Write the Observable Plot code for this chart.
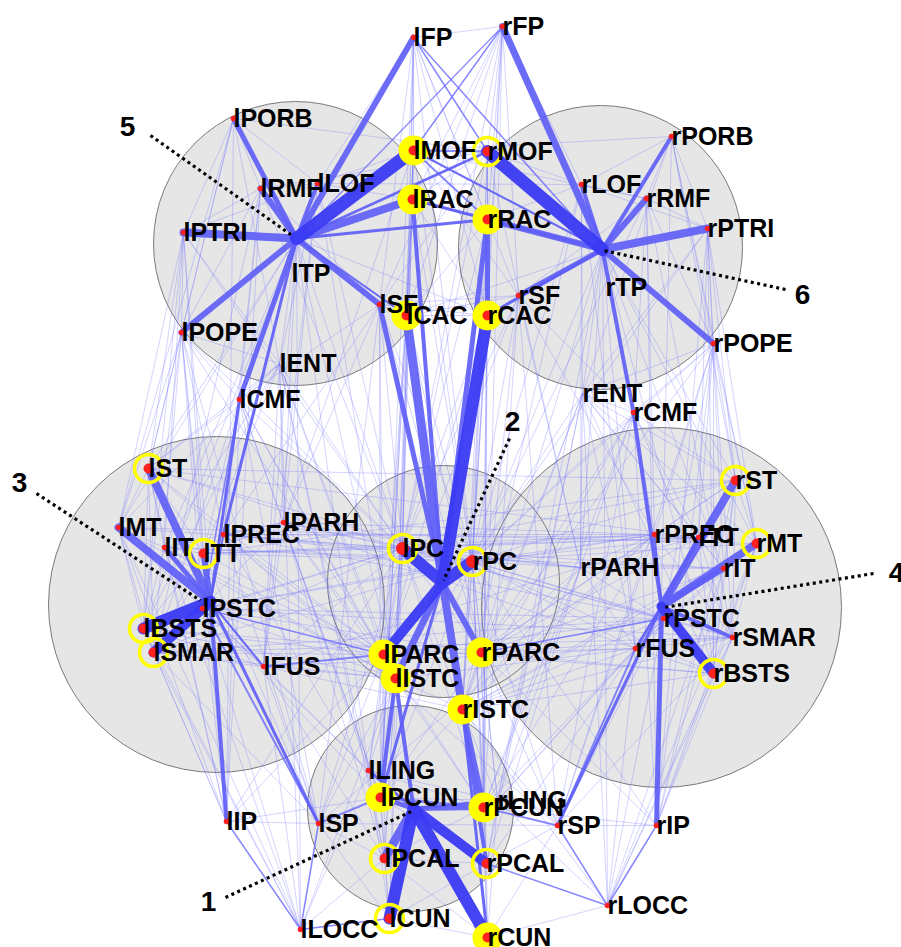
<!DOCTYPE html>
<html><head><meta charset="utf-8">
<script src="https://cdn.jsdelivr.net/npm/d3@7"></script>
<script src="https://cdn.jsdelivr.net/npm/@observablehq/plot@0.6"></script>
<style>html,body{margin:0;padding:0;background:#fff} svg{display:block}</style>
</head><body><div id="chart"></div>
<script>
// ---- node layout (network layout coordinates) ----
const nodeNames = ["lFP","lPORB","lRMF","lLOF","lMOF","lRAC","lPTRI","lTP","lSF","lCAC","lPOPE","lENT","lCMF",
 "rFP","rMOF","rLOF","rRMF","rPORB","rRAC","rPTRI","rTP","rSF","rCAC","rPOPE","rENT","rCMF",
 "lST","lMT","lIT","lTT","lPREC","lPARH","lPSTC","lBSTS","lSMAR","lFUS",
 "lPC","rPC","lPARC","lISTC","rPARC","rISTC",
 "rST","rPREC","rTT","rMT","rIT","rPARH","rPSTC","rSMAR","rFUS","rBSTS",
 "lLING","lPCUN","lIP","lSP","lPCAL","lCUN","lLOCC","rPCUN","rLING","rSP","rPCAL","rCUN","rLOCC","rIP"];
const nodeX = [413,233,260,317,413,412,183,296,379,406,181,279,239,
 502,487,581,646,671,487,707,602,518,487,713,582,633,
 148,118,164,203,223,283,202,143,153,263,
 402,472,383,395,481,462,
 735,654,698,756,723,580,663,732,635,713,
 368,380,226,318,384,389,300,483,497,557,486,487,607,656];
const nodeY = [37,118,188,183,150,199,232,238,304,315,332,363,399,
 26,151,184,198,136,219,228,249,295,315,343,393,412,
 468,527,547,553,534,522,608,628,652,666,
 548,561,654,678,652,709,
 480,534,537,543,568,567,618,637,648,673,
 770,797,821,823,858,918,929,807,800,825,863,937,905,825];
const labelOverride = ["lTP","rTP"];
const labelOverrideX = [291,605];
const labelOverrideY = [273,287];
const noDot = ["lTP","rTP","lENT","rENT","rPARH"];
const yellowFilled = ["lMOF","lRAC","lCAC","rRAC","rCAC","lPARC","lISTC","rPARC","rISTC","lPCUN","rPCUN","rCUN"];
const yellowRing = ["rMOF","lPC","rPC","lST","lTT","lBSTS","lSMAR","rST","rMT","rBSTS","lPCAL","rPCAL","lCUN"];
const bigDot = ["lPC","rPC"];

// ---- modules ----
const moduleIds = [1,2,3,4,5,6];
const moduleCx = [410,443,216,661,295,600];
const moduleCy = [808,581,604,607,243,247];
const moduleR  = [103,116,168,180,142,142];
const hubNames = ["h1","h2","h3","h4","h5","h6"];
const hubX = [413,442,210,661,296,602];
const hubY = [808,582,601,606,238,249];

// ---- module numbers with dotted pointers ----
const numText = ["1","2","3","4","5","6"];
const numX = [208,512,19,896,127,802];
const numY = [902,422,483,573,127,295];
const ptrX1 = [225,509,36,873,150,785];
const ptrY1 = [897,438,493,573,135,289];
const ptrX2 = [413,443,200,663,293,603];
const ptrY2 = [810,580,600,607,236,250];

// ---- strong (hub) connections: "from to width" ----
const thickEdges = [
 "h5 lMOF 13","h5 lRAC 8","h5 lPTRI 8","h5 lRMF 6","h5 lPORB 5","h5 lPOPE 6","h5 lFP 6","h5 lLOF 4","h5 lSF 6","h5 lCMF 5","h5 lPREC 3","h5 rRAC 3","h5 rMOF 2.5","h5 lCAC 2",
 "h6 rMOF 13","h6 rFP 7","h6 rPTRI 8","h6 rRAC 6","h6 rRMF 6","h6 rPORB 4","h6 rLOF 4","h6 rPOPE 6","h6 rSF 5","h6 rCMF 4","h6 rCAC 3","h6 lRAC 3","h6 lMOF 2",
 "h2 lPC 12","h2 rPC 12","h2 rCAC 12","h2 lCAC 9","h2 lSF 5","h2 rRAC 5","h2 lRAC 4","h2 lPARC 10","h2 lISTC 7","h2 rPARC 6","h2 rISTC 8","h2 lPCUN 3",
 "h3 lBSTS 12","h3 lSMAR 10","h3 lST 8","h3 lMT 8","h3 lTT 6","h3 lIT 5","h3 lIP 4","h3 lSP 3","h3 lCMF 3","h3 lFUS 2","h3 lPREC 2",
 "h4 rBSTS 10","h4 rST 8","h4 rMT 8","h4 rIT 6","h4 rTT 4","h4 rSMAR 4","h4 rIP 5","h4 rCMF 4","h4 rSP 3","h4 rFUS 3","h4 rPREC 2",
 "h1 lCUN 12","h1 rCUN 12","h1 rPCAL 10","h1 lPCAL 9","h1 lPCUN 5","h1 rPCUN 5","h1 lLING 3","h1 rLING 3","h1 lISTC 4",
 "rISTC rPCUN 6","rISTC rPCAL 4","rISTC rCUN 3","lISTC lPCUN 4","rRAC rCAC 5"
];
// ---- medium connections ----
const mediumEdges = [
 "lFP rMOF 1.5","rFP lMOF 1.5","lFP rTP 1.5","rFP lTP 1.2","lMOF rRAC 2","lRAC rRAC 1.5","lMOF rMOF 2",
 "lFUS lPARC 2","lPSTC lPARC 1.5","rPSTC rPARC 1.5","rFUS rSP 2","lSP lPCUN 2","rSP rPCUN 2",
 "lIP lLOCC 1.5","rIP rLOCC 1.5","rSP rLOCC 1.5","lSP lLOCC 1.5","lLOCC lCUN 1.5","rLOCC rPCAL 1.5","lPCUN rPCUN 3",
 "lPSTC lSP 2","lCMF lPSTC 1.5"
];
// ---- weak connections seen in both hemispheres (region pairs) ----
const bothSides = [
 "PORB PTRI","PORB LOF","PORB RMF","PORB POPE","PTRI POPE","PTRI RMF","PTRI LOF","RMF LOF","RMF SF","RMF CMF","LOF MOF","LOF RAC","MOF RAC","MOF CAC","RAC CAC","SF CAC","SF CMF","POPE CMF","POPE ENT","ENT CMF","TP ENT","FP MOF","FP RAC","FP SF","FP LOF","FP CAC","PTRI ENT","PORB ENT","LOF ENT","RMF POPE",
 "POPE PREC","POPE PSTC","POPE SMAR","POPE ST","POPE TT","POPE MT","PTRI ST","PTRI MT","PTRI IT","PTRI BSTS","PORB ST","ENT FUS","ENT PARH","ENT IT","ENT MT","ENT ST","CMF PREC","CMF PSTC","CMF SMAR","CMF PARH","CMF TT","SF PREC","SF PARH","TP MT","TP IT","TP ST","TP FUS","TP PARH","RMF PREC","RMF SMAR","LOF PARH","LOF FUS","MOF PARH","TP BSTS","ENT BSTS","POPE BSTS","PTRI TT","PORB MT","ENT TT","CMF ST",
 "CAC PC","CAC PARC","CAC ISTC","SF PARC","SF PC","RAC PC","RAC ISTC","MOF PC","MOF ISTC","FP PC","CMF PARC","CMF PC","ENT PC","ENT ISTC","POPE PC","TP PC","TP ISTC","RMF PC","LOF PC","LOF ISTC","PTRI PC","POPE PARC","ENT PARC","CMF ISTC",
 "SF PCUN","SF SP","CMF SP","CMF IP","RMF IP","CAC PCUN","MOF PCUN","RAC PCUN","ENT LING","TP LING","POPE IP","PTRI IP","CMF PCUN","FP PCUN","ENT LOCC","PORB IP","POPE SP","ENT PCAL","TP LOCC",
 "ST MT","ST TT","ST IT","ST BSTS","MT IT","MT BSTS","MT SMAR","IT TT","IT FUS","IT BSTS","TT PREC","TT PARH","TT BSTS","PREC PARH","PREC SMAR","BSTS SMAR","BSTS FUS","SMAR FUS","PARH FUS","PARH PSTC","FUS PSTC","MT FUS","ST SMAR","ST PREC","TT SMAR","IT PARH",
 "PSTC PC","PSTC PARC","PSTC ISTC","PREC PC","PREC PARC","PARH PC","PARH ISTC","PARH PARC","FUS PARC","FUS ISTC","FUS PC","SMAR PARC","SMAR PC","SMAR ISTC","BSTS ISTC","BSTS PC","TT PC","TT PARC","IT PARC","IT ISTC","MT PC","MT ISTC","ST PC","ST PARC","BSTS PARC","PREC ISTC",
 "PSTC SP","PSTC IP","PSTC LOCC","SMAR IP","SMAR SP","BSTS IP","IT LOCC","FUS LOCC","FUS LING","PARH LING","PARH PCUN","PREC SP","PREC PCUN","MT LOCC","MT IP","ST IP","FUS SP","TT SP","PSTC PCUN","SMAR LOCC","FUS PCAL","PARH PCAL","IT IP","BSTS LOCC","PSTC LING",
 "PC PCUN","PC LING","PC SP","PC PCAL","PC CUN","PARC PCUN","PARC SP","ISTC PCUN","ISTC LING","ISTC PCAL","ISTC CUN","ISTC SP","PARC LING","PC IP","PARC IP","ISTC LOCC","PARC PCAL",
 "PC PARC","PC ISTC","PARC ISTC",
 "LING PCUN","LING PCAL","LING CUN","LING LOCC","PCUN SP","PCUN PCAL","PCUN CUN","SP IP","SP LOCC","IP LOCC","LOCC CUN","LOCC PCAL","PCAL CUN","SP PCAL","IP PCUN","SP CUN"
];
// ---- weak inter-hemispheric connections ----
const crossSides = [
 "lFP rFP","lFP rMOF","rFP lMOF","lMOF rMOF","lRAC rRAC","lCAC rCAC","lSF rSF","lMOF rRAC","lRAC rMOF","lCAC rRAC","lRAC rCAC","lFP rTP","rFP lTP","lFP rRAC","rFP lRAC","lSF rCAC","rSF lCAC","lTP rCAC","rTP lCAC","lLOF rLOF","lRMF rMOF","rRMF lMOF","lFP rSF","rFP lSF","lMOF rSF","rMOF lSF","lPORB rMOF","rPORB lMOF","lFP rCAC","rFP lCAC",
 "lCAC rPC","rCAC lPC","lCAC rPARC","rCAC lPARC","lSF rPC","rSF lPC","lRAC rPC","rRAC lPC","lMOF rPC","rMOF lPC","lSF rPARC","rSF lPARC","lFP rPC","rFP lPC",
 "lPSTC rPC","rPSTC lPC","lPSTC rPARC","rPSTC lPARC","lPREC rPC","rPREC lPC","lPARH rPC","rPARH lPC","lST rPC","rST lPC","lIT rPC","rIT lPC","lTT rPC","rTT lPC","lSMAR rPC","rSMAR lPC","lFUS rISTC","rFUS lISTC",
 "lPSTC rPSTC","lPREC rPREC","lPARH rPARH","lTT rTT","lST rST","lSMAR rSMAR","lFUS rFUS","lBSTS rBSTS","lIT rIT","lMT rMT","lPSTC rPREC","lPREC rPSTC","lPARH rFUS","lFUS rPARH","lTT rPREC","lPREC rTT","lSMAR rPSTC","lPSTC rSMAR","lST rTT","lTT rST","lPARH rPREC","lPREC rPARH",
 "lPC rPC","lPARC rPARC","lISTC rISTC","lPC rPARC","rPC lPARC","lPC rISTC","rPC lISTC",
 "lPC rPCUN","rPC lPCUN","lPARC rPCUN","rPARC lPCUN","lISTC rPCUN","rISTC lPCUN",
 "lPCUN rPCAL","rPCUN lPCAL","lPCAL rPCAL","lCUN rCUN","lLING rLING","lSP rSP","lCUN rPCAL","rCUN lPCAL","lLING rPCUN","rLING lPCUN","lPREC rSP","rPREC lSP"
];

// ---- build tables ----
const pos = new Map();
nodeNames.forEach((n, i) => pos.set(n, [nodeX[i], nodeY[i]]));
hubNames.forEach((n, i) => pos.set(n, [hubX[i], hubY[i]]));

const nodes = nodeNames.map((n, i) => {
  const k = labelOverride.indexOf(n);
  return {name: n, x: nodeX[i], y: nodeY[i],
          lx: k >= 0 ? labelOverrideX[k] : nodeX[i],
          ly: k >= 0 ? labelOverrideY[k] : nodeY[i]};
});
const dots = nodes.filter(d => !noDot.includes(d.name)).map(d => ({...d,
  r: bigDot.includes(d.name) ? 6.5 : (yellowFilled.includes(d.name) || yellowRing.includes(d.name)) ? 5 : 2.8}));
const modules = moduleIds.map((m, i) => ({m, x: moduleCx[i], y: moduleCy[i], r: moduleR[i]}));

const parse = s => { const [a, b, w] = s.split(" "); return {a, b, w: w === undefined ? 0.7 : +w}; };
const valid = e => pos.has(e.a) && pos.has(e.b);
const thin = [
  ...bothSides.flatMap(s => { const [a, b] = s.split(" "); return [{a: "l"+a, b: "l"+b}, {a: "r"+a, b: "r"+b}]; }),
  ...crossSides.map(parse)
].filter(valid);
const medium = mediumEdges.map(parse).filter(valid);
const thick = thickEdges.map(parse).filter(valid);
const thickLight = thick.filter(d => d.w < 10);
const thickDark = thick.filter(d => d.w >= 10);

const X1 = d => pos.get(d.a)[0], Y1 = d => pos.get(d.a)[1], X2 = d => pos.get(d.b)[0], Y2 = d => pos.get(d.b)[1];
const ptrs = numText.map((t, i) => ({t, x: numX[i], y: numY[i], x1: ptrX1[i], y1: ptrY1[i], x2: ptrX2[i], y2: ptrY2[i]}));
const font = "Liberation Sans, Arial, Helvetica, sans-serif";

const chart = Plot.plot({
  width: 901, height: 947, margin: 0,
  x: {domain: [0, 901], range: [0, 901], axis: null},
  y: {domain: [0, 947], range: [0, 947], axis: null},
  r: {type: "identity"},
  style: {background: "#fff"},
  marks: [
    Plot.dot(modules, {x: "x", y: "y", r: "r", fill: "#e6e6e6", stroke: "none"}),
    Plot.dot(modules, {x: "x", y: "y", r: "r", fill: "none", stroke: "#7a7a7a", strokeWidth: 1}),
    Plot.link(thin, {x1: X1, y1: Y1, x2: X2, y2: Y2, stroke: "#7070ff", strokeOpacity: 0.4, strokeWidth: 0.75}),
    Plot.link(medium, {x1: X1, y1: Y1, x2: X2, y2: Y2, stroke: "#6a6aff", strokeOpacity: 0.75, strokeWidth: d => d.w}),
    Plot.link(thickLight, {x1: X1, y1: Y1, x2: X2, y2: Y2, stroke: "#6060f8", strokeOpacity: 0.92, strokeWidth: d => d.w, strokeLinecap: "round"}),
    Plot.link(thickDark, {x1: X1, y1: Y1, x2: X2, y2: Y2, stroke: "#3a3af4", strokeOpacity: 0.95, strokeWidth: d => d.w, strokeLinecap: "round"}),
    Plot.link(ptrs, {x1: "x1", y1: "y1", x2: "x2", y2: "y2", stroke: "#000", strokeWidth: 3.2, strokeDasharray: "3,3.5"}),
    Plot.dot(nodes.filter(d => yellowFilled.includes(d.name)), {x: "x", y: "y", r: 15, fill: "#ffff00", stroke: "none"}),
    Plot.dot(nodes.filter(d => yellowRing.includes(d.name)), {x: "x", y: "y", r: 14, fill: "none", stroke: "#ffff00", strokeWidth: 3.5}),
    Plot.dot(dots, {x: "x", y: "y", r: "r", fill: "#ff2020", stroke: "none"}),
    Plot.text(nodes, {x: "lx", y: "ly", text: "name", textAnchor: "start", fontSize: 25, fontWeight: "bold", fontFamily: font, fill: "#000"}),
    Plot.text(ptrs, {x: "x", y: "y", text: "t", fontSize: 28, fontWeight: "bold", fontFamily: font, fill: "#000"})
  ]
});
document.getElementById("chart").appendChild(chart);
</script></body></html>
